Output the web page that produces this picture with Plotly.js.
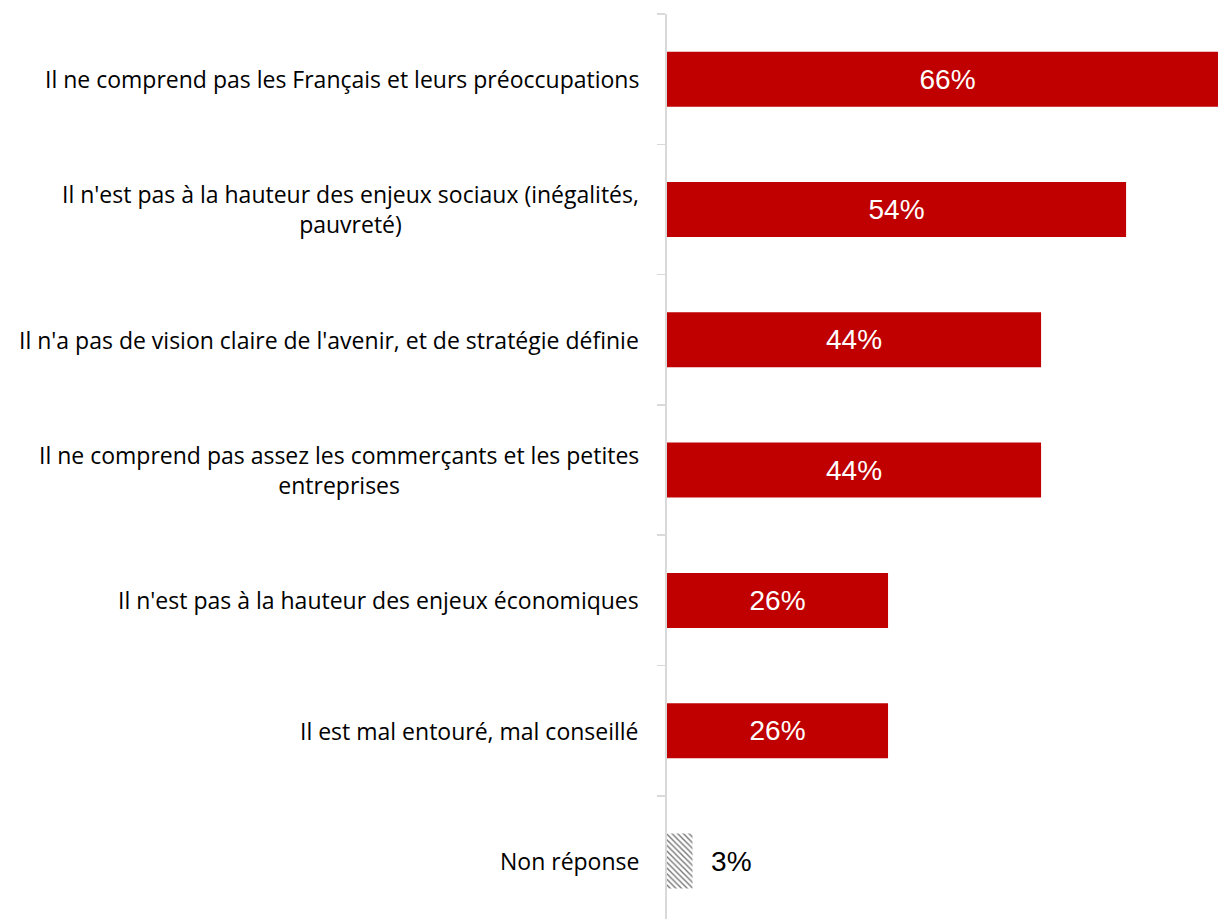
<!DOCTYPE html>
<html>
<head>
<meta charset="utf-8">
<script src="https://cdn.plot.ly/plotly-3.0.1.min.js"></script>
<style>html,body{margin:0;padding:0;overflow:hidden;background:#fff;width:1218px;height:919px;}#chart{width:1240px;height:919px;}</style>
</head>
<body>
<div id="chart"></div>
<script>
const categories = [
  "Il ne comprend pas les Français et leurs préoccupations",
  "Il n'est pas à la hauteur des enjeux sociaux (inégalités,<br>pauvreté)",
  "Il n'a pas de vision claire de l'avenir, et de stratégie définie",
  "Il ne comprend pas assez les commerçants et les petites<br>entreprises",
  "Il n'est pas à la hauteur des enjeux économiques",
  "Il est mal entouré, mal conseillé",
  "Non réponse"
];
const values = [66, 54, 44, 44, 26, 26, 3];

const mainCats = categories.slice(0, 6);
const mainVals = values.slice(0, 6);
const nrCats = categories.slice(6);
const nrVals = values.slice(6);

const traces = [
  {
    type: 'bar', orientation: 'h',
    y: mainCats, x: mainVals,
    marker: {color: '#c00000'},
    text: mainVals.map(v => v + '%'),
    textposition: 'inside',
    insidetextanchor: 'middle',
    constraintext: 'none',
    textfont: {family: 'Liberation Sans, Arial, sans-serif', size: 28, color: '#ffffff'},
    hoverinfo: 'none',
    showlegend: false
  },
  {
    type: 'bar', orientation: 'h',
    y: nrCats, x: nrVals,
    marker: {color: '#ffffff', pattern: {shape: '\\', fgcolor: '#777777', bgcolor: '#ffffff', size: 4, solidity: 0.35}, line: {width: 0}},
    text: nrVals.map(v => '\u00a0\u00a0' + v + '%'),
    textposition: 'outside',
    textfont: {family: 'Liberation Sans, Arial, sans-serif', size: 28, color: '#000000'},
    cliponaxis: false,
    hoverinfo: 'none',
    showlegend: false
  }
];

const annotations = categories.map(c => ({
  xref: 'paper', yref: 'y', x: 0, y: c,
  xanchor: 'right', yanchor: 'middle', xshift: -26,
  text: c, align: 'center', showarrow: false,
  font: {family: 'Open Sans, sans-serif', size: 23, color: '#000000'}
}));

const layout = {
  width: 1240, height: 919,
  margin: {l: 667, r: 0, t: 14, b: 0, pad: 0},
  paper_bgcolor: '#ffffff', plot_bgcolor: '#ffffff',
  barmode: 'overlay',
  bargap: 0.578,
  xaxis: {range: [0, 67.4], visible: false, showgrid: false, zeroline: false, fixedrange: true},
  yaxis: {
    type: 'category', categoryorder: 'array', categoryarray: categories,
    range: [6.445, -0.5],
    showticklabels: false,
    showline: true, linecolor: '#d9d9d9', linewidth: 2,
    ticks: 'outside', ticklen: 8, tickwidth: 1.5, tickcolor: '#d9d9d9',
    tickson: 'boundaries',
    showgrid: false, zeroline: false, fixedrange: true
  },
  annotations: annotations,
  font: {family: 'Open Sans, sans-serif'}
};

Plotly.newPlot('chart', traces, layout, {displayModeBar: false, staticPlot: true});
</script>
</body>
</html>
